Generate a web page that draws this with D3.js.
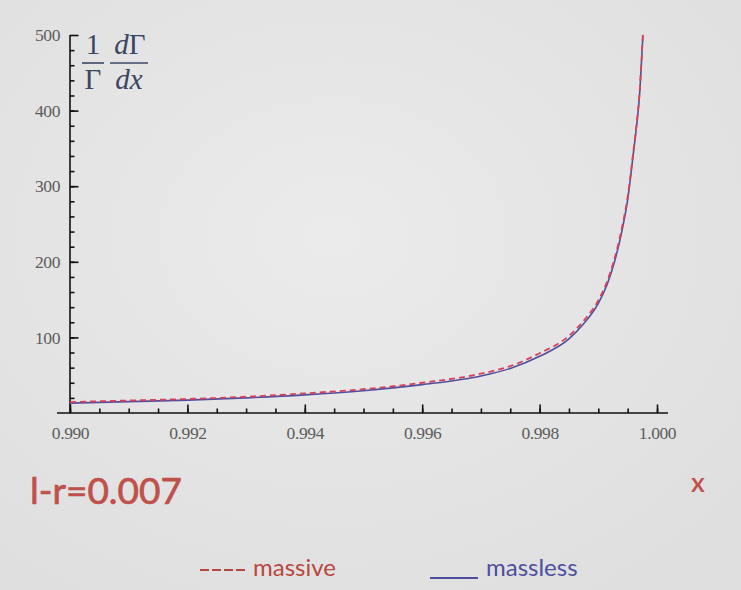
<!DOCTYPE html>
<html>
<head>
<meta charset="utf-8">
<script src="https://cdn.jsdelivr.net/npm/d3@7"></script>
<style>
  body { margin: 0; background: #e6e6e6; }
  svg { display: block; }
</style>
</head>
<body>
<div id="chart"></div>
<script>
// values
var xValues       = [0.990, 0.991, 0.992, 0.993, 0.994, 0.995, 0.996, 0.997, 0.9975, 0.998, 0.9985, 0.99875, 0.999, 0.99915, 0.99925, 0.9994, 0.9995, 0.9996, 0.99965, 0.9997, 0.99976];
var masslessRate  = [13, 15, 17, 20, 24, 29.5, 37.5, 49, 59, 75, 98, 118, 145, 170, 193, 240, 282, 345, 378, 418, 500];
var massiveRate   = [14.5, 16.5, 18.5, 21.5, 26, 31.5, 40, 52, 62, 79, 102, 122, 149, 174, 197, 244, 286, 348, 381, 421, 502];
var xMajorTicks   = [0.990, 0.992, 0.994, 0.996, 0.998, 1.000];
var yMajorTicks   = [100, 200, 300, 400, 500];
var seriesNames   = ["massive", "massless"];

var width = 741,
    height = 590;

var svg = d3.select("#chart").append("svg")
    .attr("width", width)
    .attr("height", height);

// paper-ish background
var defs = svg.append("defs");
var grad = defs.append("radialGradient").attr("id", "paper")
    .attr("cx", "45%").attr("cy", "40%").attr("r", "75%");
grad.append("stop").attr("offset", "0%").attr("stop-color", "#ebebeb");
grad.append("stop").attr("offset", "100%").attr("stop-color", "#dedede");
svg.append("rect").attr("width", width).attr("height", height).attr("fill", "url(#paper)");

var x = d3.scaleLinear().domain([0.990, 1.000]).range([70, 657]);
var y = d3.scaleLinear().domain([0, 500]).range([413, 35]);

var tickFont = "'Liberation Serif', 'DejaVu Serif', serif";

// x axis: extended base line, then minor and major ticks
svg.append("line")
    .attr("x1", 57).attr("x2", 668)
    .attr("y1", y(0)).attr("y2", y(0))
    .attr("stroke", "#111").attr("stroke-width", 1.6);

var xMinor = svg.append("g")
    .attr("transform", "translate(0," + y(0) + ")")
    .call(d3.axisBottom(x).tickValues(d3.range(0, 21).map(function(i) { return 0.990 + i * 0.0005; }))
      .tickSize(-4.5).tickFormat(""));
xMinor.select(".domain").remove();

var xMajor = svg.append("g")
    .attr("transform", "translate(0," + y(0) + ")")
    .call(d3.axisBottom(x).tickValues(xMajorTicks)
      .tickSize(-8.5).tickPadding(14).tickFormat(d3.format(".3f")));
xMajor.select(".domain").remove();

// y axis
svg.append("line")
    .attr("x1", x(0.990)).attr("x2", x(0.990))
    .attr("y1", y(500)).attr("y2", y(0))
    .attr("stroke", "#111").attr("stroke-width", 1.6);

var yMinor = svg.append("g")
    .attr("transform", "translate(" + x(0.990) + ",0)")
    .call(d3.axisLeft(y).tickValues(d3.range(20, 500, 20))
      .tickSize(-4.5).tickFormat(""));
yMinor.select(".domain").remove();

var yMajor = svg.append("g")
    .attr("transform", "translate(" + x(0.990) + ",0)")
    .call(d3.axisLeft(y).tickValues(yMajorTicks)
      .tickSize(-8.5).tickPadding(10));
yMajor.select(".domain").remove();

svg.selectAll("g").attr("font-size", null).attr("font-family", null);
svg.selectAll(".tick line").attr("stroke", "#111").attr("stroke-width", 1.6);
svg.selectAll(".tick text")
    .style("font-family", tickFont)
    .style("font-size", "17.5px")
    .style("letter-spacing", "-0.4px")
    .attr("fill", "#5c5c5c");

// curves
var line = d3.line()
    .x(function(d) { return x(d[0]); })
    .y(function(d) { return y(d[1]); })
    .curve(d3.curveMonotoneX);

svg.append("path")
    .datum(xValues.map(function(v, i) { return [v, masslessRate[i]]; }))
    .attr("fill", "none")
    .attr("stroke", "#4d4f9e")
    .attr("stroke-width", 1.6)
    .attr("d", line);

svg.append("path")
    .datum(xValues.map(function(v, i) { return [v, massiveRate[i]]; }))
    .attr("fill", "none")
    .attr("stroke", "#d8405a")
    .attr("stroke-width", 1.8)
    .attr("stroke-dasharray", "6,4")
    .attr("d", line);

// y label: 1/Γ dΓ/dx
var labColor = "#3b4762";
var lab = svg.append("g").attr("fill", labColor)
    .style("font-family", "'Liberation Serif', 'DejaVu Serif', serif")
    .style("font-size", "29px");
lab.append("text").attr("x", 93).attr("y", 54).attr("text-anchor", "middle").text("1");
lab.append("line").attr("x1", 82).attr("x2", 104).attr("y1", 63).attr("y2", 63)
    .attr("stroke", labColor).attr("stroke-width", 1.6);
lab.append("text").attr("x", 93).attr("y", 89).attr("text-anchor", "middle").text("Γ");
lab.append("text").attr("x", 130).attr("y", 54).attr("text-anchor", "middle")
    .html("<tspan font-style='italic'>d</tspan>Γ");
lab.append("line").attr("x1", 110).attr("x2", 148).attr("y1", 63).attr("y2", 63)
    .attr("stroke", labColor).attr("stroke-width", 1.6);
lab.append("text").attr("x", 129).attr("y", 89).attr("text-anchor", "middle")
    .attr("font-style", "italic").text("dx");

// annotations
var sans = "Lato, 'Open Sans', sans-serif";
var red = "#c0504a";
svg.append("text").attr("x", 30).attr("y", 504)
    .style("font-family", sans).style("font-size", "37px")
    .attr("fill", red).attr("stroke", red).attr("stroke-width", 0.7)
    .text("l-r=0.007");
svg.append("text").attr("x", 698).attr("y", 492).attr("text-anchor", "middle")
    .style("font-family", sans).style("font-size", "27px").style("font-weight", 600)
    .attr("fill", red)
    .text("x");

// legend
var legendColors = ["#b8473e", "#4d4f9e"];
var legendX = [200, 430];
var legend = svg.selectAll(".legend").data(seriesNames).enter().append("g")
    .attr("class", "legend")
    .attr("transform", function(d, i) { return "translate(" + legendX[i] + ",0)"; });
legend.append("line")
    .attr("x1", 0).attr("x2", function(d, i) { return i ? 48 : 46; })
    .attr("y1", function(d, i) { return i ? 578 : 570; })
    .attr("y2", function(d, i) { return i ? 578 : 570; })
    .attr("stroke", function(d, i) { return legendColors[i]; })
    .attr("stroke-width", 2)
    .attr("stroke-dasharray", function(d, i) { return i ? null : "9,3"; });
legend.append("text")
    .attr("x", function(d, i) { return i ? 56 : 53; })
    .attr("y", 576)
    .style("font-family", sans).style("font-size", "24px")
    .attr("fill", function(d, i) { return legendColors[i]; })
    .text(function(d) { return d; });
</script>
</body>
</html>
